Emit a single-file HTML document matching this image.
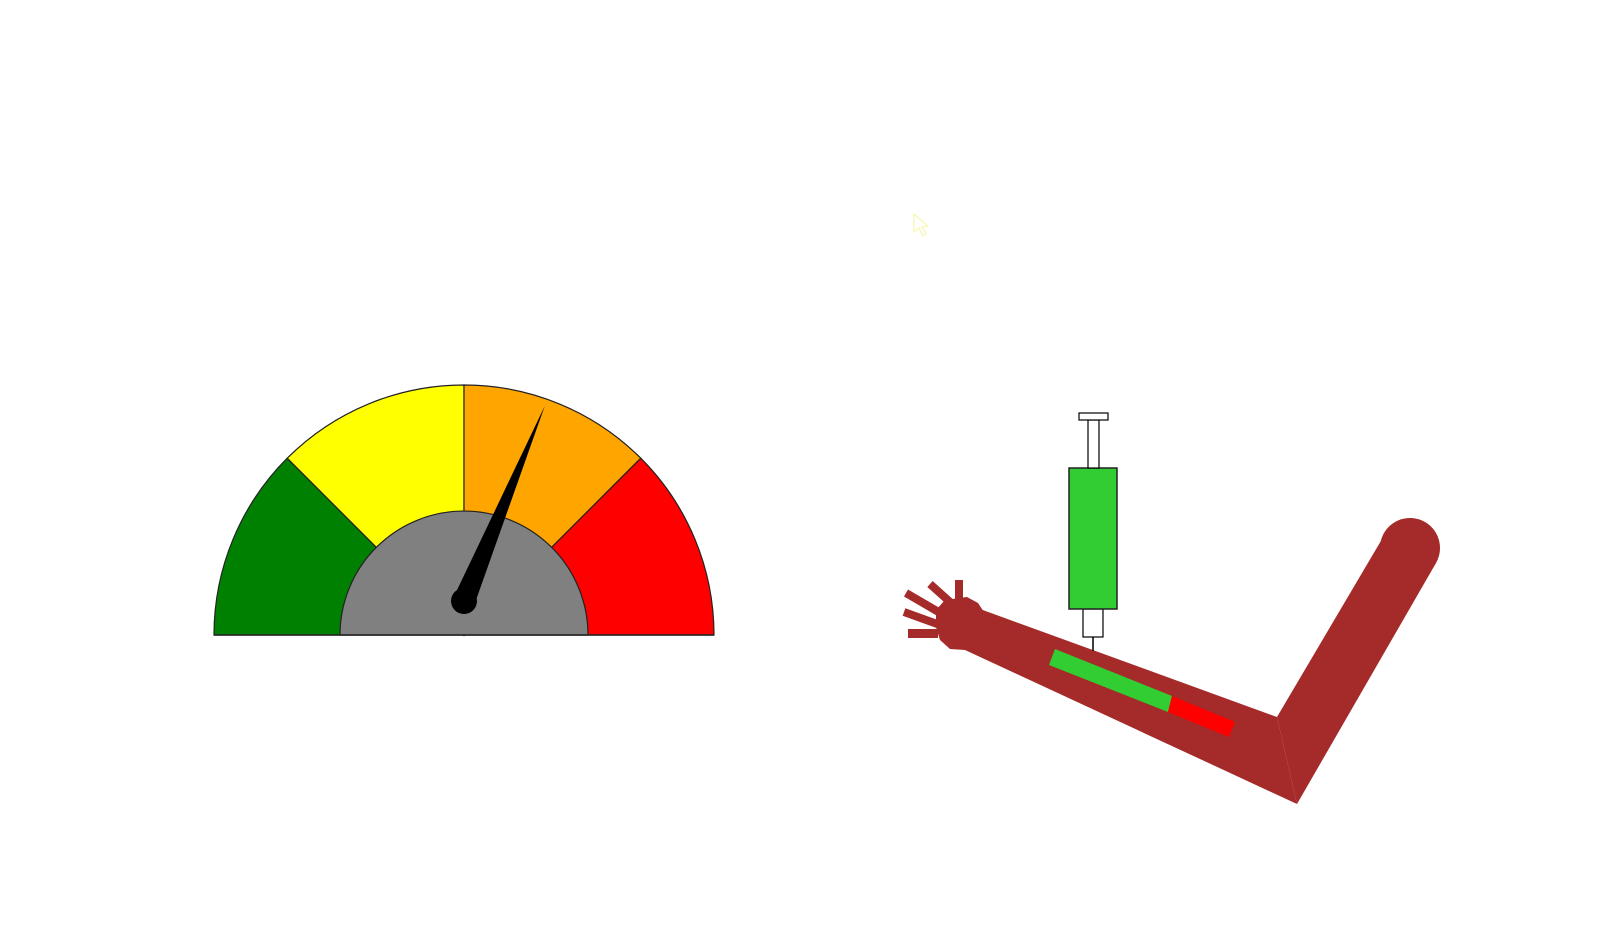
<!DOCTYPE html>
<html><head><meta charset="utf-8"><style>
html,body{margin:0;padding:0;background:#fff;width:1608px;height:929px;overflow:hidden;font-family:"Liberation Sans",sans-serif}
</style></head><body>
<svg id="s" width="1608" height="929" viewBox="0 0 1608 929">
<g id="gauge"></g>
<g id="arm">
  <polygon fill="#a52a2a" points="1277,717 1385,534 1410,548 1436,563 1297,804"/>
  <circle cx="1410" cy="548" r="30" fill="#a52a2a"/>
  <polygon fill="#a52a2a" points="980,609 1277,717 1297,804 965,650"/>
  <polygon fill="#a52a2a" points="945,600 967,597 978,603 984,612 975,640 965,650 950,649 940,640 936,627 936,610"/>
  <rect x="955" y="580" width="8" height="22" fill="#a52a2a"/>
  <rect x="908" y="629" width="30" height="9" fill="#a52a2a"/>
  <line x1="904" y1="612" x2="940" y2="625" stroke="#a52a2a" stroke-width="8"/>
  <line x1="906" y1="593" x2="942" y2="614" stroke="#a52a2a" stroke-width="8"/>
  <line x1="930" y1="584" x2="950" y2="602" stroke="#a52a2a" stroke-width="8"/>
  <polygon fill="#32cd32" points="1055,649 1172,696 1168,712 1049,665"/>
  <polygon fill="#ff0000" points="1172,696 1235,722 1229,737 1168,712"/>
  <line x1="1093" y1="637" x2="1093" y2="651" stroke="#000" stroke-width="1.5"/>
  <rect x="1083" y="609" width="20" height="28" fill="#fff" stroke="#000" stroke-width="1.2"/>
  <rect x="1069" y="468" width="48" height="141" fill="#32cd32" stroke="#222" stroke-width="1.5"/>
  <rect x="1088" y="420" width="11" height="48" fill="#fff" stroke="#000" stroke-width="1.2"/>
  <rect x="1079" y="413" width="29" height="7" fill="#fff" stroke="#000" stroke-width="1.2"/>
</g>
<polygon points="914,214 914,232 919,228 923,236 926,234 922,227 928,226" fill="none" stroke="#f5f5a0" stroke-width="1"/>
</svg>
<script>
const thresholds = [0, 25, 50, 75, 100];
const bandColors = ["#008000", "#ffff00", "#ffa500", "#ff0000"];
const bandNames = ["band-low", "band-moderate", "band-high", "band-severe"];
const gaugeValue = [62.5];
const NS = "http://www.w3.org/2000/svg";
const cx = 464, cy = 635, R = 250, r = 124;
const hubX = 464, hubY = 601, needleLen = 211;
function ang(v){ return Math.PI - (v/100)*Math.PI; }
function pt(v, rad){ const a = ang(v); return [cx + rad*Math.cos(a), cy - rad*Math.sin(a)]; }
const g = document.getElementById('gauge');
for (let i = 0; i < bandColors.length; i++) {
  const p0 = pt(thresholds[i], R), p1 = pt(thresholds[i+1], R);
  const path = document.createElementNS(NS, 'path');
  path.setAttribute('d', `M${cx},${cy} L${p0[0]},${p0[1]} A${R},${R} 0 0 1 ${p1[0]},${p1[1]} Z`);
  path.setAttribute('fill', bandColors[i]);
  path.setAttribute('stroke', '#222');
  path.setAttribute('stroke-width', '1.2');
  
  
  g.appendChild(path);
}
const inner = document.createElementNS(NS, 'path');
inner.setAttribute('d', `M${cx-r},${cy} A${r},${r} 0 0 1 ${cx+r},${cy} Z`);
inner.setAttribute('fill', '#808080');
inner.setAttribute('stroke', '#222');
inner.setAttribute('stroke-width', '1.2');


g.appendChild(inner);
const base = document.createElementNS(NS, 'line');
base.setAttribute('x1', cx-R); base.setAttribute('x2', cx+R);
base.setAttribute('y1', cy); base.setAttribute('y2', cy);
base.setAttribute('stroke', '#222'); base.setAttribute('stroke-width', '1.5');


g.appendChild(base);
const a = ang(gaugeValue[0]);
const tx = hubX + needleLen*Math.cos(a), ty = hubY - needleLen*Math.sin(a);
const px = Math.sin(a), py = Math.cos(a);
const w = 11;
const needle = document.createElementNS(NS, 'polygon');
needle.setAttribute('points', `${hubX-px*w},${hubY-py*w} ${tx},${ty} ${hubX+px*w},${hubY+py*w}`);
needle.setAttribute('fill', '#000');


g.appendChild(needle);
const hub = document.createElementNS(NS, 'circle');
hub.setAttribute('cx', hubX); hub.setAttribute('cy', hubY); hub.setAttribute('r', 13);
hub.setAttribute('fill', '#000');


g.appendChild(hub);
</script>
</body></html>
